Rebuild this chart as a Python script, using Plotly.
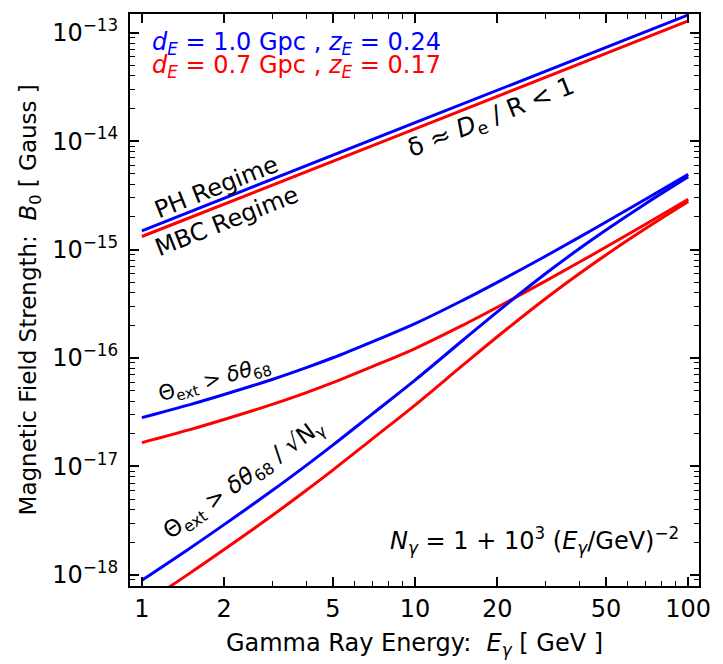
import plotly.graph_objects as go

# ---------------- data ----------------
E_lin = [1, 10, 100]
ph_blue = [1.49e-15, 1.48e-14, 1.46e-13]
ph_red = [1.32e-15, 1.30e-14, 1.29e-13]

E = [1, 1.5, 2, 3, 4, 5, 7, 10, 15, 20, 30, 40, 50, 70, 100]
mid_blue = [2.818e-17, 3.715e-17, 4.603e-17, 6.339e-17, 8.147e-17, 1.005e-16, 1.419e-16, 2.075e-16,
            3.420e-16, 4.989e-16, 8.690e-16, 1.303e-15, 1.795e-15, 2.924e-15, 4.943e-15]
mid_red = [1.659e-17, 2.187e-17, 2.710e-17, 3.732e-17, 4.797e-17, 5.917e-17, 8.355e-17, 1.222e-16,
           2.014e-16, 2.938e-16, 5.117e-16, 7.672e-16, 1.057e-15, 1.722e-15, 2.910e-15]
low_blue = [8.91e-19, 1.762e-18, 2.905e-18, 5.985e-18, 1.023e-17, 1.571e-17, 3.069e-17, 6.252e-17,
            1.465e-16, 2.667e-16, 5.985e-16, 1.023e-15, 1.517e-15, 2.667e-15, 4.710e-15]
low_red = [5.25e-19, 1.037e-18, 1.710e-18, 3.523e-18, 6.025e-18, 9.248e-18, 1.807e-17, 3.682e-17,
           8.630e-17, 1.571e-16, 3.524e-16, 6.024e-16, 8.935e-16, 1.570e-15, 2.773e-15]

x_ticks = [1, 2, 5, 10, 20, 50, 100]
x_ticktext = ["1", "2", "5", "10", "20", "50", "100"]
y_ticks = [1e-18, 1e-17, 1e-16, 1e-15, 1e-14, 1e-13]
y_ticktext = ["10<sup>−18</sup>", "10<sup>−17</sup>", "10<sup>−16</sup>",
              "10<sup>−15</sup>", "10<sup>−14</sup>", "10<sup>−13</sup>"]

BLUE = "#0000ff"
RED = "#ff0000"
FONT = "DejaVu Sans"

fig = go.Figure()
for xs, ys, c in [(E_lin, ph_blue, BLUE), (E_lin, ph_red, RED),
                  (E, mid_blue, BLUE), (E, mid_red, RED),
                  (E, low_blue, BLUE), (E, low_red, RED)]:
    fig.add_trace(go.Scatter(x=xs, y=ys, mode="lines",
                             line=dict(color=c, width=3, shape="spline", smoothing=1.0),
                             showlegend=False, hoverinfo="skip"))

x_minor = [m * d for d in (1, 10) for m in range(2, 10)] + [0.9]
x_minor = [v for v in x_minor if v not in x_ticks]
y_minor = [m * 10.0 ** p for p in range(-19, -12) for m in range(2, 10)]

axis_common = dict(showline=True, linecolor="black", linewidth=2, mirror="ticks",
                   ticks="inside", ticklen=9, tickwidth=1.5, tickcolor="black",
                   showgrid=False, zeroline=False,
                   tickfont=dict(family=FONT, size=24, color="black"))

fig.update_xaxes(type="log", range=[-0.0434, 2.0394], tickmode="array",
                 tickvals=x_ticks, ticktext=x_ticktext,
                 minor=dict(tickmode="array", tickvals=x_minor, ticks="inside", ticklen=5,
                            tickwidth=1, tickcolor="black", showgrid=False),
                 title=dict(text="Gamma Ray Energy:  <i>E</i><sub><i>γ</i></sub> [ GeV ]",
                            font=dict(family=FONT, size=24, color="black"), standoff=12),
                 **axis_common)
fig.update_yaxes(type="log", range=[-18.103, -12.827], tickmode="array",
                 tickvals=y_ticks, ticktext=y_ticktext, ticklabelstandoff=5,
                 minor=dict(tickmode="array", tickvals=y_minor, ticks="inside", ticklen=5,
                            tickwidth=1, tickcolor="black", showgrid=False),
                 **axis_common)

def ann(text, x, y, size=24, color="black", angle=0, xanchor="center"):
    fig.add_annotation(text=text, x=x, y=y, xref="paper", yref="paper", showarrow=False,
                       textangle=angle, xanchor=xanchor, yanchor="middle",
                       font=dict(family=FONT, size=size, color=color))

ann("Magnetic Field Strength:  <i>B</i><sub>0</sub> [ Gauss ]", -0.175, 0.5, size=23, angle=-90)
ann("<i>d</i><sub><i>E</i></sub> = 1.0 Gpc , <i>z</i><sub><i>E</i></sub> = 0.24", 0.036, 0.949,
    color=BLUE, xanchor="left")
ann("<i>d</i><sub><i>E</i></sub> = 0.7 Gpc , <i>z</i><sub><i>E</i></sub> = 0.17", 0.036, 0.909,
    color=RED, xanchor="left")
ann("PH Regime", 0.152, 0.698, angle=-21.6)
ann("MBC Regime", 0.171, 0.638, angle=-21.6)
ann("δ ≈ <i>D</i><sub>e</sub> / R < 1", 0.636, 0.818, size=25, angle=-21.6)
ann("Θ<sub>ext</sub> > <i>δθ</i><sub>68</sub>", 0.1485, 0.360, size=21, angle=-15.5)
ann("Θ<sub>ext</sub> > <i>δθ</i><sub>68</sub> / √N<sub>γ</sub>", 0.200, 0.186, size=23, angle=-35.5)
ann("<i>N</i><sub><i>γ</i></sub> = 1 + 10<sup>3</sup> (<i>E</i><sub><i>γ</i></sub>/GeV)<sup>−2</sup>",
    0.711, 0.079, size=24)

fig.update_layout(width=723, height=664, margin=dict(l=130, r=14, t=12, b=72),
                  paper_bgcolor="white", plot_bgcolor="white",
                  font=dict(family=FONT, color="black"))

fig.write_html("out.html")
